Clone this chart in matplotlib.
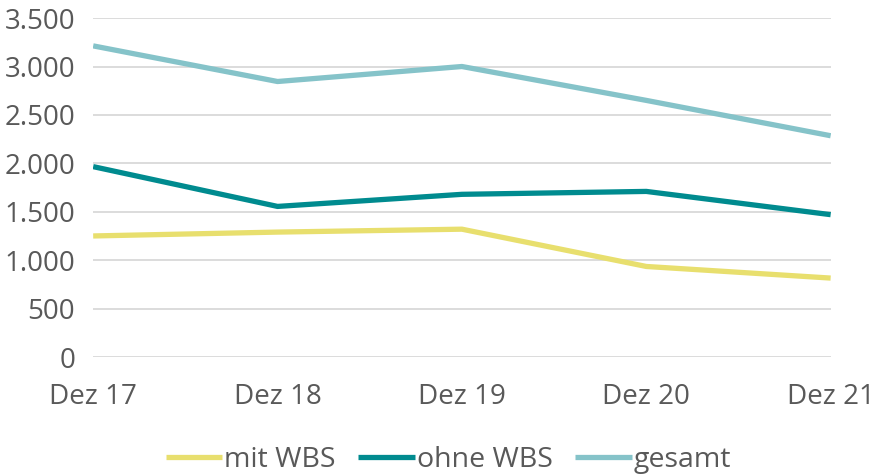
import matplotlib.pyplot as plt
from matplotlib.ticker import FuncFormatter

categories = ["Dez 17", "Dez 18", "Dez 19", "Dez 20", "Dez 21"]
mit_wbs = [1250, 1290, 1320, 935, 815]
ohne_wbs = [1966, 1555, 1680, 1710, 1470]
gesamt = [3213, 2845, 3000, 2650, 2285]

text_color = "#595959"
plt.rcParams['font.family'] = ['Open Sans', 'DejaVu Sans']

fig = plt.figure(figsize=(8.79, 4.76), dpi=100)
ax = fig.add_axes([0.106, 0.25, 0.839, 0.712])

x = range(len(categories))
ax.plot(x, mit_wbs, color="#E8DF6E", lw=3.8, label="mit WBS", solid_capstyle="butt")
ax.plot(x, ohne_wbs, color="#008B8F", lw=3.8, label="ohne WBS", solid_capstyle="butt")
ax.plot(x, gesamt, color="#85C3C9", lw=3.8, label="gesamt", solid_capstyle="butt")

ax.set_xlim(0, 4)
ax.set_ylim(0, 3500)
ax.set_yticks(range(0, 3501, 500))
ax.yaxis.set_major_formatter(FuncFormatter(lambda v, p: "{:,.0f}".format(v).replace(",", ".")))
ax.set_xticks(list(x))
ax.set_xticklabels(categories)
ax.grid(axis="y", color="#D9D9D9", lw=1.3)
ax.set_axisbelow(True)
for s in ax.spines.values():
    s.set_visible(False)
ax.tick_params(length=0, labelsize=20, colors=text_color)
ax.tick_params(axis="x", pad=19)
ax.tick_params(axis="y", pad=13)

leg = fig.legend(loc="lower center", bbox_to_anchor=(0.51, -0.05), ncol=3, frameon=False,
                 fontsize=20.5, handlelength=2.0, handletextpad=0.05, columnspacing=0.8)
for t in leg.get_texts():
    t.set_color(text_color)

fig.savefig("out.png", dpi=100)
